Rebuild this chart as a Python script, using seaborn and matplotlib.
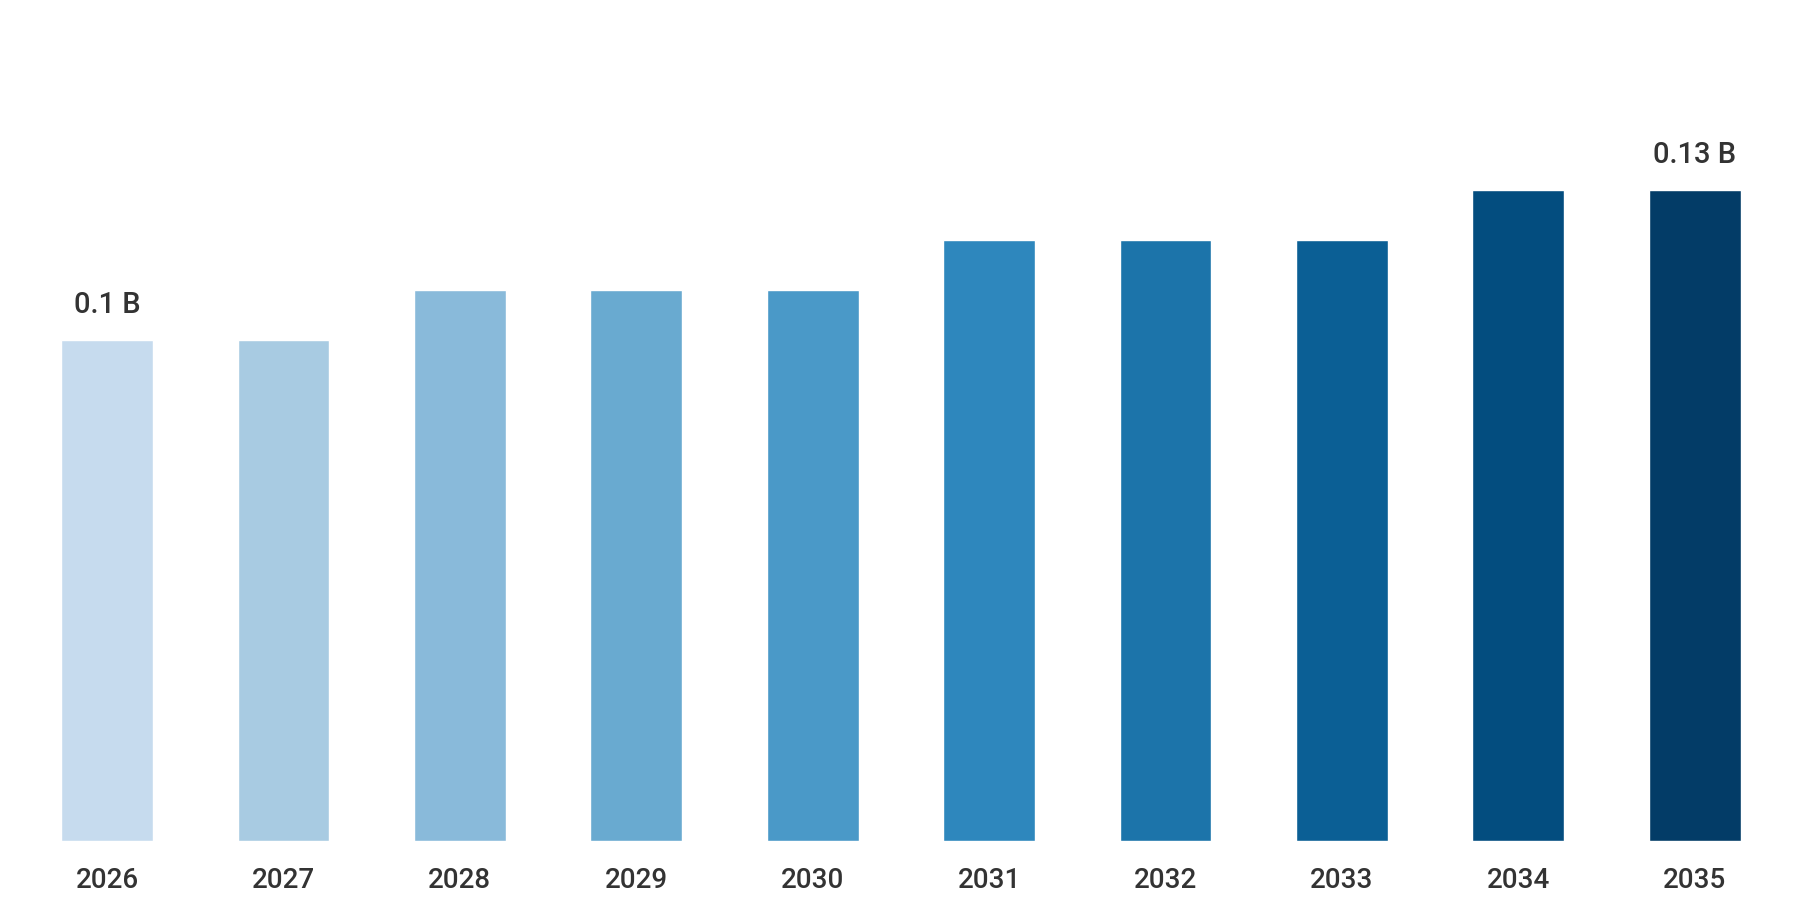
"""Bar chart of yearly values 2026-2035 (billions)."""
import matplotlib
matplotlib.use("Agg")
import matplotlib.pyplot as plt
import pandas as pd
import seaborn as sns

years = ["2026", "2027", "2028", "2029", "2030", "2031", "2032", "2033", "2034", "2035"]
values = [0.10, 0.10, 0.11, 0.11, 0.11, 0.12, 0.12, 0.12, 0.13, 0.13]
bar_labels = ["0.1 B", "", "", "", "", "", "", "", "", "0.13 B"]
colors = ["#c6dbee", "#a8cbe2", "#89bada", "#69aad0", "#4a99c8",
          "#2e87bd", "#1c74aa", "#0b5f95", "#034d7f", "#033c67"]

sns.set_theme(style="white")
plt.rcParams["font.family"] = ["Roboto", "DejaVu Sans"]

df = pd.DataFrame({"year": years, "value": values})

fig = plt.figure(figsize=(18, 9), dpi=100)
ax = fig.add_axes([0.0105, 0.0659, 0.98, 0.9341])
sns.barplot(data=df, x="year", y="value", hue="year", palette=colors,
            width=0.52, legend=False, saturation=1, ax=ax)

ax.set_ylim(0, 0.168)
ax.set_xlim(-0.5, len(years) - 0.5)
for i, (v, lab) in enumerate(zip(values, bar_labels)):
    if lab:
        ax.annotate(lab, (i, v), xytext=(0, 15), textcoords="offset points",
                    ha="center", va="bottom", fontsize=21, fontweight="medium",
                    color="#333333")

ax.set_xlabel(""); ax.set_ylabel("")
ax.set_yticks([])
ax.tick_params(axis="x", length=0, pad=19, labelsize=20, labelcolor="#333333")
for t in ax.get_xticklabels():
    t.set_fontweight("medium")
sns.despine(ax=ax, left=True, bottom=True)

fig.savefig("out.png", dpi=100)
